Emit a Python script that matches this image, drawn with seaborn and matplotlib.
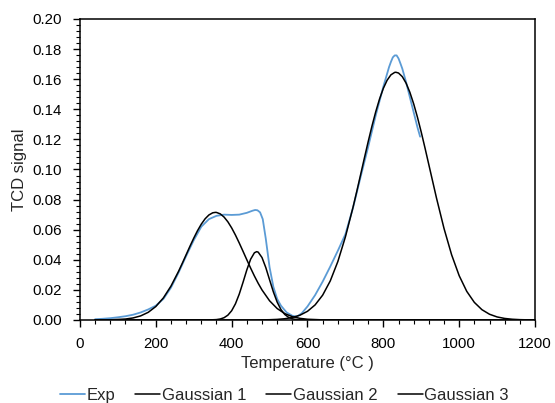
import matplotlib
matplotlib.use("Agg")
import matplotlib.pyplot as plt
import seaborn as sns
import pandas as pd
from matplotlib.ticker import MultipleLocator, FormatStrFormatter

# ---- data ----
exp_T = [40, 60, 80, 100, 120, 140, 160, 180, 200, 220, 240, 260, 280, 300, 320, 340,
         360, 380, 400, 420, 440, 455, 462, 468, 475, 482, 490, 500, 510, 520, 530, 545,
         560, 572, 585, 600, 620, 640, 660, 680, 700, 720, 740, 760, 780, 800, 815, 820,
         825, 830, 835, 840, 845, 850, 860, 870, 880, 890, 897]
exp_y = [0.0005, 0.0008, 0.0012, 0.0018, 0.0025, 0.0035, 0.0050, 0.0070, 0.0095, 0.0140,
         0.0215, 0.0315, 0.0425, 0.0530, 0.0620, 0.0670, 0.0692, 0.0700, 0.0698, 0.0700,
         0.0712, 0.0726, 0.0731, 0.0729, 0.0715, 0.0670, 0.0540, 0.0350, 0.0220, 0.0140,
         0.0095, 0.0050, 0.0028, 0.0022, 0.0045, 0.0090, 0.0165, 0.0255, 0.0355, 0.0460,
         0.0570, 0.0745, 0.0950, 0.1150, 0.1360, 0.1550, 0.1680, 0.1715, 0.1745, 0.1758,
         0.1758, 0.1738, 0.1705, 0.1670, 0.1580, 0.1480, 0.1380, 0.1280, 0.1218]

g1_T = [40, 80, 120, 140, 160, 180, 200, 220, 240, 260, 270, 280, 290, 300, 310, 320, 330,
        340, 350, 357, 360, 370, 380, 390, 400, 410, 420, 430, 440, 450, 460, 470, 480,
        500, 520, 540, 560, 580, 600, 640, 680, 1200]
g1_y = [0.00002, 0.00011, 0.00063, 0.00135, 0.00271, 0.00509, 0.00894, 0.01469, 0.02254,
        0.03234, 0.03777, 0.04337, 0.04897, 0.05436, 0.05935, 0.06371, 0.06724, 0.06978,
        0.07121, 0.07150, 0.07145, 0.07049, 0.06838, 0.06523, 0.06118, 0.05642, 0.05116,
        0.04562, 0.04000, 0.03448, 0.02922, 0.02436, 0.01996, 0.01275, 0.00761, 0.00424,
        0.00221, 0.00108, 0.00049, 0.00008, 0.00001, 0.0]

g2_T = [40, 340, 360, 370, 380, 390, 400, 410, 420, 430, 440, 450, 460, 466, 470, 480, 490,
        500, 510, 520, 530, 540, 550, 560, 570, 580, 600, 1200]
g2_y = [0.0, 0.00002, 0.00026, 0.00066, 0.00152, 0.00320, 0.00614, 0.01076, 0.01718,
        0.02504, 0.03329, 0.04036, 0.04466, 0.04540, 0.04507, 0.04149, 0.03485, 0.02670,
        0.01866, 0.01190, 0.00692, 0.00367, 0.00178, 0.00079, 0.00032, 0.00012, 0.00001, 0.0]

g3_T = [40, 460, 500, 520, 540, 560, 580, 600, 620, 640, 660, 680, 700, 720, 730, 740, 750,
        760, 770, 780, 790, 800, 810, 820, 830, 833, 840, 850, 860, 870, 880, 890, 900,
        910, 920, 940, 960, 980, 1000, 1020, 1040, 1060, 1080, 1100, 1120, 1140, 1160,
        1180, 1200]
g3_y = [0.0, 0.00001, 0.000175, 0.00039, 0.00082, 0.00165, 0.00317, 0.00577, 0.01000,
        0.01651, 0.02594, 0.03881, 0.05524, 0.07484, 0.08551, 0.09651, 0.10758, 0.11846,
        0.12884, 0.13840, 0.14685, 0.15390, 0.15931, 0.16289, 0.16451, 0.16460, 0.16410,
        0.16169, 0.15736, 0.15127, 0.14361, 0.13469, 0.12477, 0.11415, 0.10317, 0.08120,
        0.06082, 0.04336, 0.02943, 0.01901, 0.01169, 0.00684, 0.00381, 0.00202, 0.00102,
        0.00049, 0.00022, 0.00010, 0.00004]

series_names = ["Exp", "Gaussian 1", "Gaussian 2", "Gaussian 3"]
x_label = "Temperature (°C )"
y_label = "TCD signal"

# ---- build frames ----
frames = [
    pd.DataFrame({"T": exp_T, "v": exp_y, "s": series_names[0]}),
    pd.DataFrame({"T": g1_T, "v": g1_y, "s": series_names[1]}),
    pd.DataFrame({"T": g2_T, "v": g2_y, "s": series_names[2]}),
    pd.DataFrame({"T": g3_T, "v": g3_y, "s": series_names[3]}),
]
colors = ["#5B9BD5", "#000000", "#000000", "#000000"]

sns.set_style("ticks")
plt.rcParams["font.family"] = ["Liberation Sans", "DejaVu Sans"]
plt.rcParams["font.size"] = 11

fig = plt.figure(figsize=(5.55, 4.03), dpi=100)
ax = fig.add_axes([0.1441, 0.2060, 0.8199, 0.7469])

handles = []
for df, c, name in zip(frames, colors, series_names):
    sns.lineplot(data=df, x="T", y="v", ax=ax, color=c, lw=1.3 if name == "Exp" else 1.1,
                 sort=False, estimator=None, label=name, legend=False)
    handles.append(ax.lines[-1])

ax.set_xlim(0, 1200)
ax.set_ylim(0, 0.20)
ax.xaxis.set_major_locator(MultipleLocator(200))
ax.xaxis.set_minor_locator(MultipleLocator(40))
ax.yaxis.set_major_locator(MultipleLocator(0.02))
ax.yaxis.set_minor_locator(MultipleLocator(0.004))
ax.yaxis.set_major_formatter(FormatStrFormatter("%.2f"))
ax.tick_params(which="major", direction="out", length=5, width=1, labelsize=10.8,
               colors="black")
ax.tick_params(axis="y", which="major", pad=8)
ax.tick_params(axis="x", which="major", pad=7)
ax.tick_params(which="minor", direction="out", length=3, width=0.8, colors="black")
for sp in ax.spines.values():
    sp.set_visible(True)
    sp.set_color("black")
    sp.set_linewidth(1.1)

ax.set_xlabel(x_label, fontsize=12, labelpad=4)
ax.set_ylabel(y_label, fontsize=12, labelpad=4)

fig.legend(handles=handles, labels=series_names, loc="center", ncol=4,
           bbox_to_anchor=(0.512, 0.018), frameon=False, fontsize=12,
           handlelength=1.5, handletextpad=0.1, columnspacing=1.2)

fig.savefig("out.png", dpi=100)
